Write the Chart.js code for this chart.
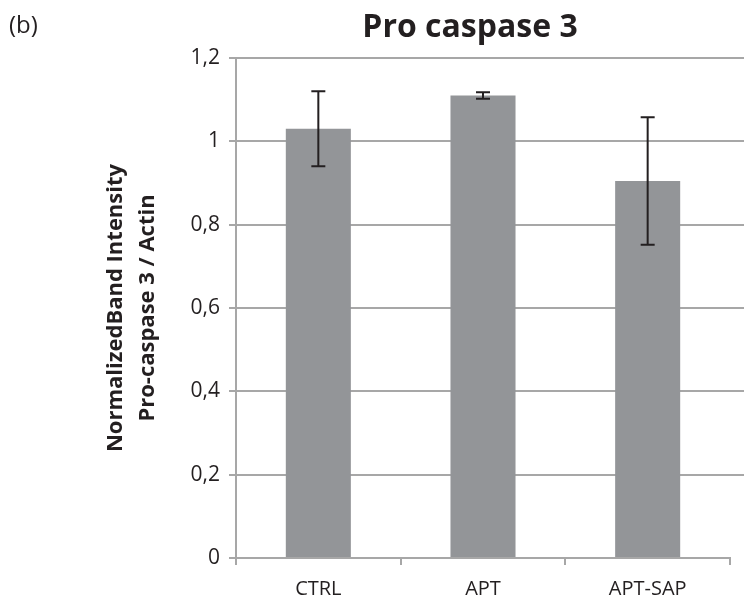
<!DOCTYPE html>
<html>
<head>
<meta charset="utf-8">
<script src="https://cdn.jsdelivr.net/npm/chart.js@4/dist/chart.umd.min.js"></script>
<style>
  html, body { margin: 0; padding: 0; background: #fff; }
  #wrap { width: 744px; height: 602px; }
</style>
</head>
<body>
<div id="wrap"><canvas id="caspaseChart" width="744" height="602"></canvas></div>
<script>
const groups = ["CTRL", "APT", "APT-SAP"];
const intensity = [1.03, 1.11, 0.905];
const errors = [0.09, 0.008, 0.153];
const yTicks = [0, 0.2, 0.4, 0.6, 0.8, 1, 1.2];

const FONT = "'Open Sans', sans-serif";

// comma decimal separator like the original spreadsheet
const fmt = v => Number(v.toFixed(1)).toString().replace(".", ",");

// error bars + gridlines that run on to the right edge, plus the heading texts
const extras = {
  id: "extras",
  beforeDatasetsDraw(chart) {
    const { ctx, chartArea, scales: { y } } = chart;
    ctx.save();
    ctx.strokeStyle = "#a7a7a7";
    ctx.lineWidth = 2;
    yTicks.forEach(t => {
      if (t === 0) return;
      const py = Math.round(y.getPixelForValue(t));
      ctx.beginPath();
      ctx.moveTo(chartArea.right, py);
      ctx.lineTo(chart.width, py);
      ctx.stroke();
    });
    ctx.restore();
  },
  afterDatasetsDraw(chart) {
    const { ctx, scales: { y } } = chart;
    const meta = chart.getDatasetMeta(0);
    ctx.save();
    ctx.strokeStyle = "#231f20";
    ctx.lineWidth = 2;
    meta.data.forEach((bar, i) => {
      const top = y.getPixelForValue(intensity[i] + errors[i]);
      const bot = y.getPixelForValue(intensity[i] - errors[i]);
      const cap = 7;
      ctx.beginPath();
      ctx.moveTo(bar.x, top);
      ctx.lineTo(bar.x, bot);
      ctx.moveTo(bar.x - cap, top);
      ctx.lineTo(bar.x + cap, top);
      ctx.moveTo(bar.x - cap, bot);
      ctx.lineTo(bar.x + cap, bot);
      ctx.stroke();
    });
    ctx.restore();
  },
  afterDraw(chart) {
    const { ctx } = chart;
    ctx.save();
    ctx.fillStyle = "#231f20";
    ctx.textBaseline = "alphabetic";
    ctx.font = "24px " + FONT;
    ctx.textAlign = "left";
    ctx.fillText("(b)", 9, 33);
    ctx.font = "bold 32px " + FONT;
    ctx.textAlign = "center";
    ctx.fillText("Pro caspase 3", 470, 37);
    ctx.restore();
  }
};

new Chart(document.getElementById("caspaseChart"), {
  type: "bar",
  data: {
    labels: groups,
    datasets: [{
      data: intensity,
      backgroundColor: "#939598",
      borderWidth: 0,
      barPercentage: 0.79,
      categoryPercentage: 0.5
    }]
  },
  options: {
    responsive: false,
    animation: false,
    layout: { padding: { left: 100, right: 14, top: 58, bottom: 0 } },
    plugins: {
      legend: { display: false },
      tooltip: { enabled: false }
    },
    scales: {
      x: {
        grid: {
          display: true,
          drawOnChartArea: false,
          color: "#a7a7a7",
          lineWidth: 2,
          tickLength: 7,
          offset: true
        },
        border: { color: "#a7a7a7", width: 2 },
        ticks: {
          color: "#231f20",
          font: { family: FONT, size: 20 },
          padding: 12
        },
        afterFit(scale) { scale.height = 44; }
      },
      y: {
        min: 0,
        max: 1.2,
        afterBuildTicks(scale) { scale.ticks = yTicks.map(v => ({ value: v })); },
        grid: {
          color: "#a7a7a7",
          lineWidth: 2,
          tickLength: 7
        },
        border: { color: "#a7a7a7", width: 2 },
        ticks: {
          color: "#231f20",
          font: { family: FONT, size: 21 },
          padding: 9,
          callback: v => fmt(v)
        },
        title: {
          display: true,
          text: ["NormalizedBand Intensity", "Pro-caspase 3 / Actin"],
          color: "#231f20",
          font: { family: FONT, size: 22, weight: "bold", lineHeight: 1.45 },
          padding: { top: 0, bottom: 10 }
        },
        afterFit(scale) { scale.width = 136; }
      }
    }
  },
  plugins: [extras]
});
</script>
</body>
</html>
